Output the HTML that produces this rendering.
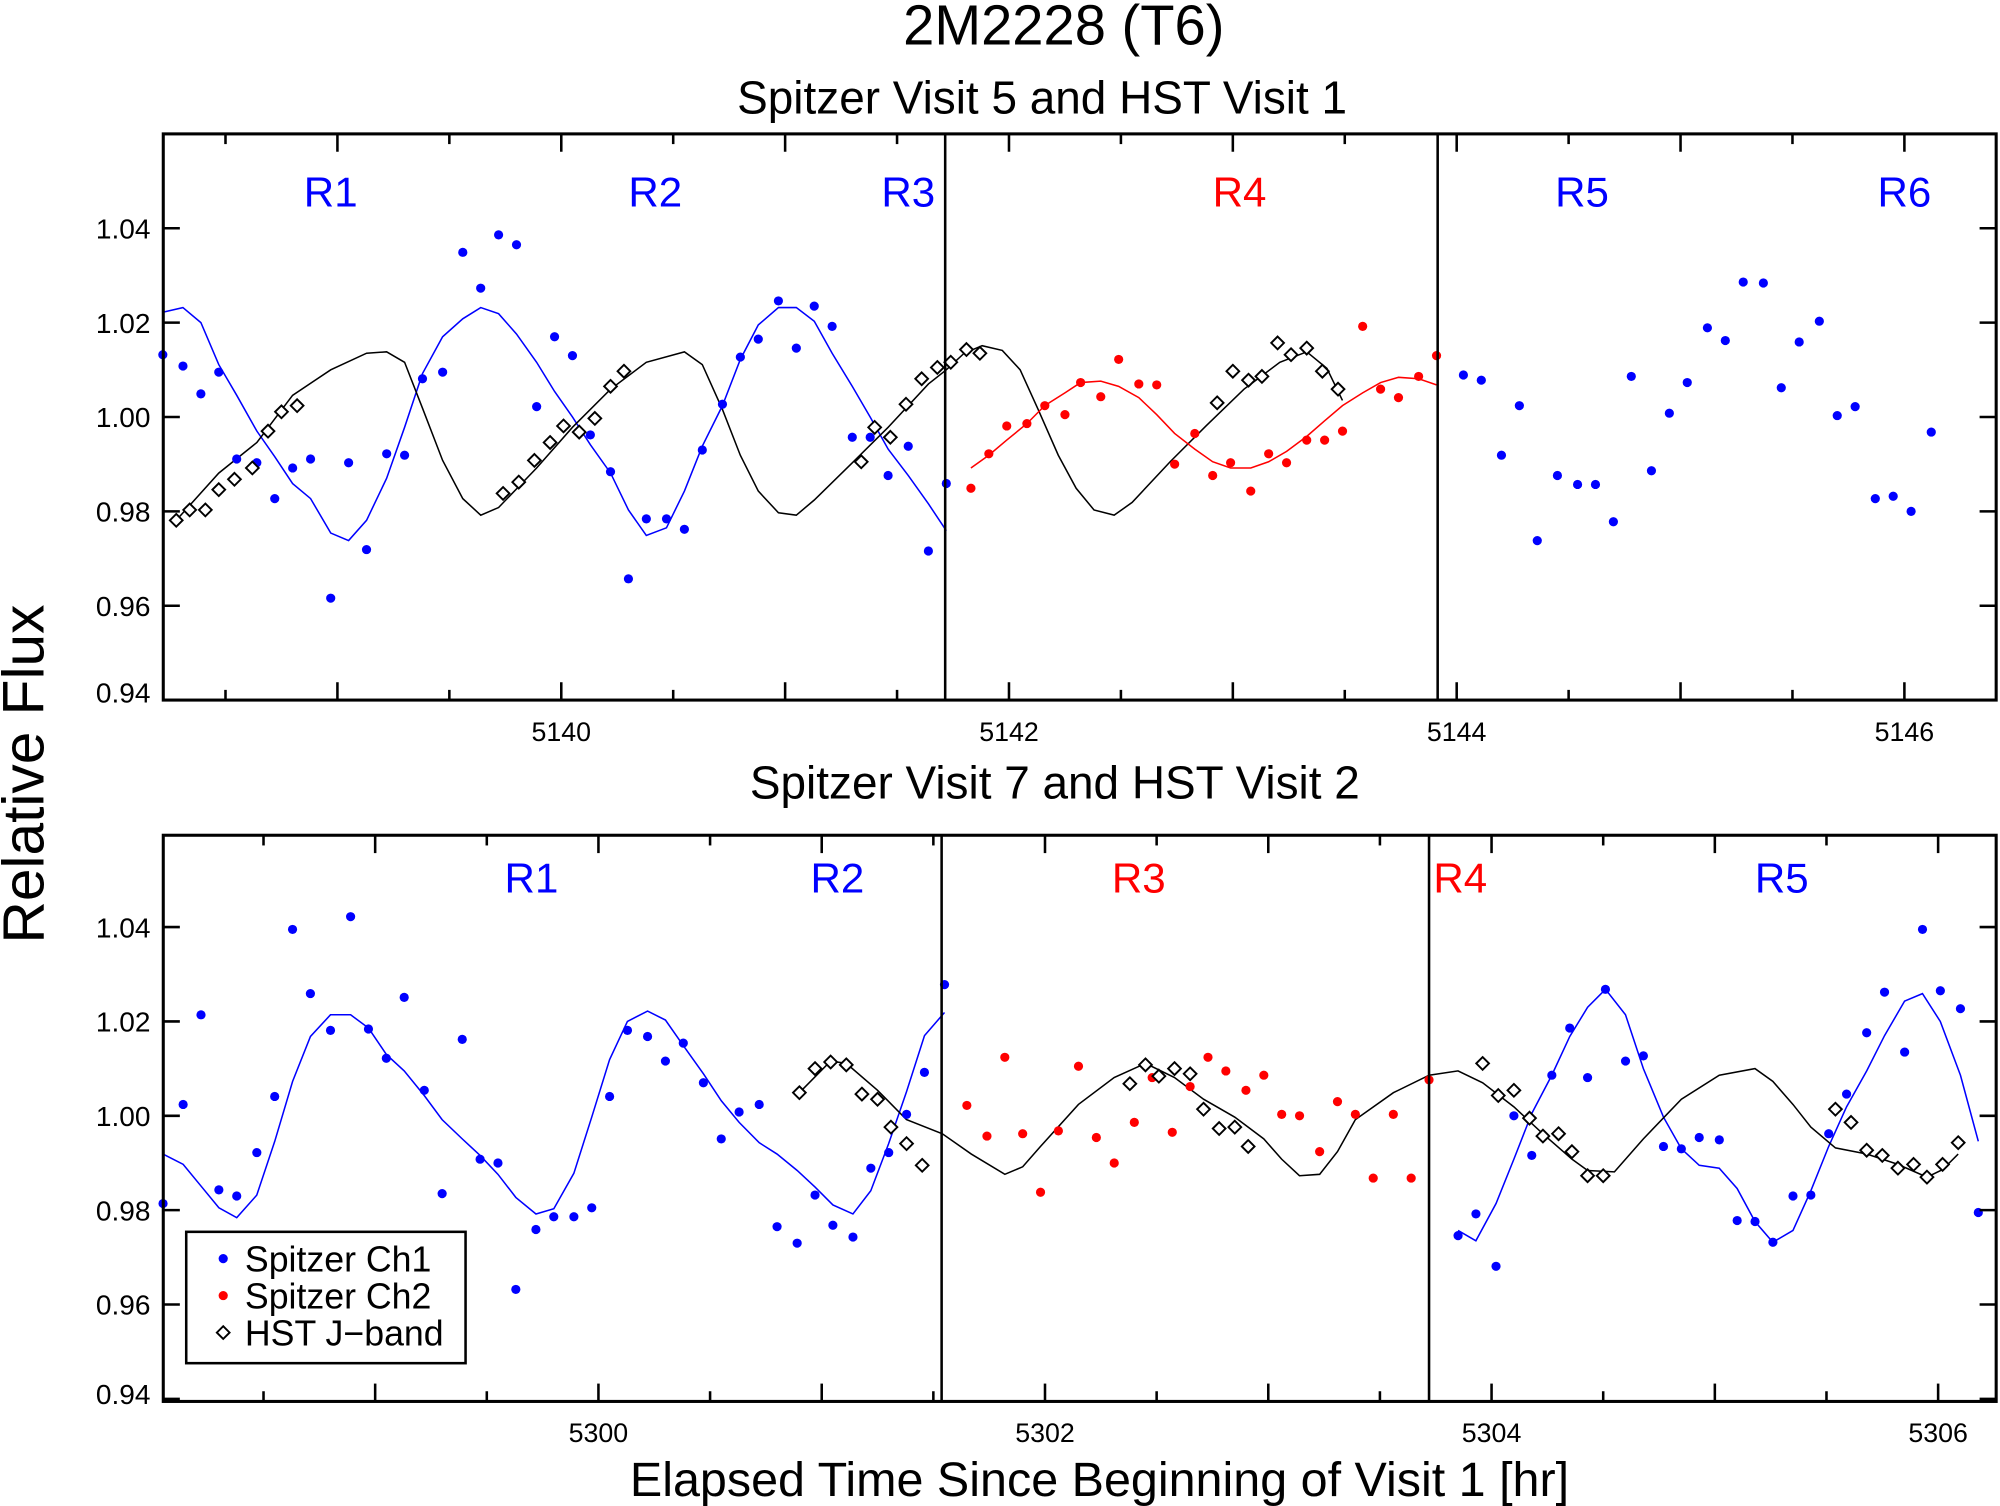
<!DOCTYPE html>
<html><head><meta charset="utf-8"><style>
html,body{margin:0;padding:0;background:#fff;}
svg{display:block;font-family:"Liberation Sans",Arial,sans-serif;}
</style></head><body>
<svg id="chart" width="2000" height="1506" viewBox="0 0 1568 1181" preserveAspectRatio="none" xmlns="http://www.w3.org/2000/svg">
<text x="834" y="35" font-size="44" text-anchor="middle">2M2228 (T6)</text>
<text x="817" y="89" font-size="36" text-anchor="middle">Spitzer Visit 5 and HST Visit 1</text>
<text x="827" y="626" font-size="36" text-anchor="middle">Spitzer Visit 7 and HST Visit 2</text>
<text transform="translate(34,607) rotate(-90)" font-size="46" text-anchor="middle">Relative Flux</text>
<text x="862" y="1173" font-size="38" text-anchor="middle">Elapsed Time Since Beginning of Visit 1 [hr]</text>
<g id="top"></g>
<g id="bot"></g>
<g>
<rect x="146" y="966" width="219" height="103" fill="#fff" stroke="#000" stroke-width="2"/>
<g><circle cx="175" cy="987" r="3.6" fill="#0000ff"/><text x="192" y="997" font-size="28">Spitzer Ch1</text></g>
<g><circle cx="175" cy="1016" r="3.6" fill="#ff0000"/><text x="192" y="1026" font-size="28">Spitzer Ch2</text></g>
<g><path d="M175 1040 L180 1045 L175 1050 L170 1045 Z" fill="#fff" stroke="#000" stroke-width="1.5"/><text x="192" y="1055" font-size="28">HST J−band</text></g>
</g>
</svg>
<script>
// ===== Top panel data =====
const topCh1T=[5138.22,5138.31,5138.39,5138.47,5138.55,5138.64,5138.72,5138.80,5138.88,5138.97,5139.05,5139.13,5139.22,5139.30,5139.38,5139.47,5139.56,5139.64,5139.72,5139.80,5139.89,5139.97,5140.05,5140.13,5140.22,5140.30,5140.38,5140.47,5140.55,5140.63,5140.72,5140.80,5140.88,5140.97,5141.05,5141.13,5141.21,5141.30,5141.38,5141.46,5141.55,5141.64,5141.72];
const topCh1F=[1.0132,1.0108,1.0049,1.0095,0.9911,0.9903,0.9827,0.9892,0.9911,0.9616,0.9903,0.9719,0.9922,0.9919,1.0081,1.0095,1.0349,1.0273,1.0386,1.0365,1.0022,1.0170,1.0130,0.9962,0.9884,0.9657,0.9784,0.9784,0.9762,0.9930,1.0027,1.0127,1.0165,1.0246,1.0146,1.0235,1.0192,0.9957,0.9957,0.9876,0.9938,0.9716,0.9859];
const topCh1ModelF=[1.0222,1.0232,1.0200,1.0111,1.0046,0.9970,0.9916,0.9859,0.9827,0.9754,0.9738,0.9781,0.9870,0.9978,1.0092,1.0170,1.0208,1.0232,1.0219,1.0176,1.0116,1.0054,1.0000,0.9941,0.9881,0.9803,0.9749,0.9765,0.9843,0.9938,1.0024,1.0122,1.0195,1.0232,1.0232,1.0203,1.0135,1.0065,1.0000,0.9932,0.9876,0.9816,0.9759];
const topCh1bT=[5144.03,5144.11,5144.20,5144.28,5144.36,5144.45,5144.54,5144.62,5144.70,5144.78,5144.87,5144.95,5145.03,5145.12,5145.20,5145.28,5145.37,5145.45,5145.53,5145.62,5145.70,5145.78,5145.87,5145.95,5146.03,5146.12];
const topCh1bF=[1.0089,1.0078,0.9919,1.0024,0.9738,0.9876,0.9857,0.9857,0.9778,1.0086,0.9886,1.0008,1.0073,1.0189,1.0162,1.0286,1.0284,1.0062,1.0159,1.0203,1.0003,1.0022,0.9827,0.9832,0.9800,0.9968];
const topCh2T=[5141.83,5141.91,5141.99,5142.08,5142.16,5142.25,5142.32,5142.41,5142.49,5142.58,5142.66,5142.74,5142.83,5142.91,5142.99,5143.08,5143.16,5143.24,5143.33,5143.41,5143.49,5143.58,5143.66,5143.74,5143.83,5143.91];
const topCh2F=[0.9849,0.9922,0.9981,0.9986,1.0024,1.0005,1.0073,1.0043,1.0122,1.0070,1.0068,0.9900,0.9965,0.9876,0.9903,0.9843,0.9922,0.9903,0.9951,0.9951,0.9970,1.0192,1.0059,1.0041,1.0086,1.0130];
const topCh2ModelF=[0.9892,0.9919,0.9951,0.9986,1.0024,1.0051,1.0073,1.0076,1.0065,1.0041,1.0005,0.9965,0.9932,0.9905,0.9892,0.9892,0.9905,0.9927,0.9959,0.9992,1.0024,1.0051,1.0073,1.0084,1.0081,1.0068];
const topHstT=[5138.28,5138.34,5138.41,5138.47,5138.54,5138.62,5138.69,5138.75,5138.82,5139.74,5139.81,5139.88,5139.95,5140.01,5140.08,5140.15,5140.22,5140.28,5141.34,5141.40,5141.47,5141.54,5141.61,5141.68,5141.74,5141.81,5141.87,5142.93,5143.00,5143.07,5143.13,5143.20,5143.26,5143.33,5143.40,5143.47];
const topHstF=[0.9781,0.9803,0.9803,0.9846,0.9868,0.9892,0.9970,1.0011,1.0024,0.9838,0.9862,0.9908,0.9946,0.9981,0.9968,0.9997,1.0065,1.0097,0.9905,0.9978,0.9957,1.0027,1.0081,1.0105,1.0116,1.0143,1.0135,1.0030,1.0097,1.0078,1.0086,1.0157,1.0132,1.0146,1.0097,1.0059];
const topHstModelT=[5138.28,5138.47,5138.64,5138.80,5138.97,5139.13,5139.22,5139.30,5139.38,5139.47,5139.56,5139.64,5139.72,5139.89,5140.05,5140.22,5140.38,5140.55,5140.63,5140.72,5140.80,5140.88,5140.97,5141.05,5141.13,5141.30,5141.46,5141.64,5141.72,5141.80,5141.88,5141.97,5142.05,5142.13,5142.22,5142.30,5142.38,5142.47,5142.55,5142.72,5142.88,5143.05,5143.21,5143.33,5143.42,5143.49];
const topHstModelF=[0.9781,0.9881,0.9946,1.0046,1.0100,1.0135,1.0138,1.0116,1.0019,0.9908,0.9827,0.9792,0.9808,0.9892,0.9978,1.0059,1.0116,1.0138,1.0111,1.0016,0.9919,0.9843,0.9797,0.9792,0.9824,0.9903,0.9978,1.0070,1.0100,1.0135,1.0151,1.0141,1.0100,1.0016,0.9919,0.9849,0.9803,0.9792,0.9819,0.9905,0.9981,1.0059,1.0116,1.0138,1.0103,1.0035];
const topDividers=[5141.715,5143.915];
const topRegions=[["R1",5138.97,"b"],["R2",5140.42,"b"],["R3",5141.55,"b"],["R4",5143.03,"r"],["R5",5144.56,"b"],["R6",5146.0,"b"]];
// ===== Bottom panel data =====
const botCh1T=[5298.05,5298.14,5298.22,5298.30,5298.38,5298.47,5298.55,5298.63,5298.71,5298.80,5298.89,5298.97,5299.05,5299.13,5299.22,5299.30,5299.39,5299.47,5299.55,5299.63,5299.72,5299.80,5299.89,5299.97,5300.05,5300.13,5300.22,5300.30,5300.38,5300.47,5300.55,5300.63,5300.72,5300.80,5300.89,5300.97,5301.05,5301.14,5301.22,5301.30,5301.38,5301.46,5301.55];
const botCh1F=[0.9814,1.0024,1.0214,0.9843,0.9830,0.9922,1.0041,1.0395,1.0259,1.0181,1.0422,1.0184,1.0122,1.0251,1.0054,0.9835,1.0162,0.9908,0.9900,0.9632,0.9759,0.9786,0.9786,0.9805,1.0041,1.0181,1.0168,1.0116,1.0154,1.0070,0.9951,1.0008,1.0024,0.9765,0.9730,0.9832,0.9768,0.9743,0.9889,0.9922,1.0003,1.0092,1.0278];
const botCh1ModelF=[0.9919,0.9897,0.9851,0.9805,0.9784,0.9832,0.9946,1.0073,1.0168,1.0214,1.0214,1.0186,1.0130,1.0095,1.0043,0.9992,0.9951,0.9916,0.9876,0.9827,0.9792,0.9803,0.9878,0.9997,1.0119,1.0200,1.0222,1.0203,1.0149,1.0089,1.0032,0.9986,0.9943,0.9919,0.9884,0.9849,0.9811,0.9792,0.9841,0.9941,1.0051,1.0170,1.0219];
const botCh1bT=[5303.85,5303.93,5304.02,5304.10,5304.18,5304.27,5304.35,5304.43,5304.51,5304.60,5304.68,5304.77,5304.85,5304.93,5305.02,5305.10,5305.18,5305.26,5305.35,5305.43,5305.51,5305.59,5305.68,5305.76,5305.85,5305.93,5306.01,5306.10,5306.18];
const botCh1bF=[0.9746,0.9792,0.9681,1.0000,0.9916,1.0086,1.0186,1.0081,1.0268,1.0116,1.0127,0.9935,0.9930,0.9954,0.9949,0.9778,0.9776,0.9732,0.9830,0.9832,0.9962,1.0046,1.0176,1.0262,1.0135,1.0395,1.0265,1.0227,0.9795];
const botCh1bModelF=[0.9757,0.9735,0.9814,0.9908,1.0005,1.0086,1.0168,1.0230,1.0268,1.0214,1.0100,0.9997,0.9930,0.9895,0.9889,0.9846,0.9776,0.9732,0.9757,0.9841,0.9935,1.0019,1.0095,1.0170,1.0243,1.0259,1.0200,1.0086,0.9946];
const botCh2T=[5301.65,5301.74,5301.82,5301.90,5301.98,5302.06,5302.15,5302.23,5302.31,5302.40,5302.48,5302.57,5302.65,5302.73,5302.81,5302.90,5302.98,5303.06,5303.14,5303.23,5303.31,5303.39,5303.47,5303.56,5303.64,5303.72];
const botCh2F=[1.0022,0.9957,1.0124,0.9962,0.9838,0.9968,1.0105,0.9954,0.9900,0.9986,1.0081,0.9965,1.0062,1.0124,1.0095,1.0054,1.0086,1.0003,1.0000,0.9924,1.0030,1.0003,0.9868,1.0003,0.9868,1.0076];
const botHstT=[5300.90,5300.97,5301.04,5301.11,5301.18,5301.25,5301.31,5301.38,5301.45,5302.38,5302.45,5302.51,5302.58,5302.65,5302.71,5302.78,5302.85,5302.91,5303.96,5304.03,5304.10,5304.17,5304.23,5304.30,5304.36,5304.43,5304.50,5305.54,5305.61,5305.68,5305.75,5305.82,5305.89,5305.95,5306.02,5306.09];
const botHstF=[1.0049,1.0100,1.0114,1.0108,1.0046,1.0035,0.9976,0.9941,0.9895,1.0068,1.0108,1.0084,1.0100,1.0089,1.0014,0.9973,0.9976,0.9935,1.0111,1.0043,1.0054,0.9995,0.9957,0.9962,0.9924,0.9873,0.9873,1.0014,0.9986,0.9927,0.9916,0.9889,0.9897,0.9870,0.9897,0.9943];
const botHstModelT=[5300.90,5301.04,5301.11,5301.25,5301.38,5301.54,5301.67,5301.82,5301.90,5301.98,5302.15,5302.31,5302.45,5302.58,5302.71,5302.85,5302.98,5303.06,5303.14,5303.23,5303.31,5303.39,5303.56,5303.72,5303.85,5303.96,5304.10,5304.23,5304.36,5304.43,5304.55,5304.68,5304.85,5305.02,5305.18,5305.26,5305.35,5305.43,5305.54,5305.68,5305.82,5305.95,5306.02,5306.09];
const botHstModelF=[1.0049,1.0116,1.0111,1.0054,0.9992,0.9962,0.9919,0.9876,0.9892,0.9935,1.0024,1.0081,1.0111,1.0081,1.0035,0.9997,0.9951,0.9908,0.9873,0.9876,0.9924,0.9992,1.0049,1.0086,1.0095,1.0070,1.0019,0.9962,0.9908,0.9884,0.9881,0.9951,1.0035,1.0086,1.0100,1.0073,1.0024,0.9976,0.9932,0.9919,0.9897,0.9870,0.9886,0.9919];
const botDividers=[5301.537,5303.72];
const botRegions=[["R1",5299.7,"b"],["R2",5301.07,"b"],["R3",5302.42,"r"],["R4",5303.86,"r"],["R5",5305.3,"b"]];
const yTicks=[0.94,0.96,0.98,1.00,1.02,1.04];
const yTickLabels=["0.94","0.96","0.98","1.00","1.02","1.04"];

const NS="http://www.w3.org/2000/svg";
const BLUE="#0000ff",RED="#ff0000";
function mk(parent,tag,attrs){const e=document.createElementNS(NS,tag);for(const k in attrs)e.setAttribute(k,attrs[k]);parent.appendChild(e);return e;}

function panel(g,cfg){
  const L=128,R=1565,T=cfg.top,B=cfg.top+444;
  const xs=t=>L+(t-cfg.t0)/(cfg.t1-cfg.t0)*(R-L);
  const yv=v=>cfg.yAt100-(v-1)*3700;
  function line(ts,fs,color,name){
    let d="";ts.forEach((t,i)=>{d+=(i?"L":"M")+xs(t).toFixed(1)+" "+yv(fs[i]).toFixed(1);});
    const p=mk(g,"path",{d:d,fill:"none",stroke:color,"stroke-width":1.2});
    
    
  }
  function dots(ts,fs,color,name){
    ts.forEach((t,i)=>{const c=mk(g,"circle",{cx:xs(t),cy:yv(fs[i]),r:3.6,fill:color});
      
      });
  }
  function diamonds(ts,fs,name){
    ts.forEach((t,i)=>{const x=xs(t),y=yv(fs[i]);
      const p=mk(g,"path",{d:`M${x} ${y-5}L${x+5} ${y}L${x} ${y+5}L${x-5} ${y}Z`,fill:"#fff",stroke:"#000","stroke-width":1.5});
      
      });
  }
  cfg.draw(line,dots,diamonds);
  cfg.dividers.forEach(t=>{const l=mk(g,"line",{x1:xs(t),x2:xs(t),y1:T,y2:B,stroke:"#000","stroke-width":2});
    
    });
  cfg.regions.forEach(r=>{const tx=mk(g,"text",{x:xs(r[1]),y:T+cfg.labOff,"font-size":33,"text-anchor":"middle",fill:r[2]=="r"?RED:BLUE});tx.textContent=r[0];
    
    });
  const f=mk(g,"rect",{x:L,y:T,width:R-L,height:B-T,fill:"none",stroke:"#000","stroke-width":2.4});
  
  
  yTicks.forEach((v,i)=>{const y=yv(v);
    mk(g,"line",{x1:L,x2:L+13,y1:y,y2:y,stroke:"#000","stroke-width":2});
    mk(g,"line",{x1:R,x2:R-13,y1:y,y2:y,stroke:"#000","stroke-width":2});
    const tx=mk(g,"text",{x:118,y:Math.min(y+8,B+2),"font-size":22,"text-anchor":"end"});tx.textContent=yTickLabels[i];
    
    });
  for(let t=Math.ceil(cfg.t0*2)/2;t<=cfg.t1;t+=0.5){
    const x=xs(t);const major=Math.abs(t-Math.round(t))<1e-6;const len=major?14:8;
    mk(g,"line",{x1:x,x2:x,y1:B,y2:B-len,stroke:"#000","stroke-width":2});
    mk(g,"line",{x1:x,x2:x,y1:T,y2:T+len,stroke:"#000","stroke-width":2});
    if(major&&Math.round(t)%2===0){const tx=mk(g,"text",{x:x,y:B+32,"font-size":21,"text-anchor":"middle"});tx.textContent=Math.round(t);
      
      }
  }
}
panel(document.getElementById("top"),{top:105,t0:5138.222,t1:5146.41,yAt100:327,labOff:57,dividers:topDividers,regions:topRegions,
  draw:(line,dots,diamonds)=>{
    line(topCh1T,topCh1ModelF,BLUE,"ch1-model-curve");
    line(topHstModelT,topHstModelF,"#000","hst-model-curve");
    line(topCh2T,topCh2ModelF,RED,"ch2-model-curve");
    dots(topCh1T,topCh1F,BLUE,"ch1-point");
    dots(topCh1bT,topCh1bF,BLUE,"ch1-point");
    dots(topCh2T,topCh2F,RED,"ch2-point");
    diamonds(topHstT,topHstF,"hst-point");
  }});
panel(document.getElementById("bot"),{top:655,t0:5298.051,t1:5306.26,yAt100:875,labOff:45,dividers:botDividers,regions:botRegions,
  draw:(line,dots,diamonds)=>{
    line(botCh1T,botCh1ModelF,BLUE,"ch1-model-curve");
    line(botCh1bT,botCh1bModelF,BLUE,"ch1-model-curve");
    line(botHstModelT,botHstModelF,"#000","hst-model-curve");
    dots(botCh1T,botCh1F,BLUE,"ch1-point");
    dots(botCh1bT,botCh1bF,BLUE,"ch1-point");
    dots(botCh2T,botCh2F,RED,"ch2-point");
    diamonds(botHstT,botHstF,"hst-point");
  }});
</script>
</body></html>
